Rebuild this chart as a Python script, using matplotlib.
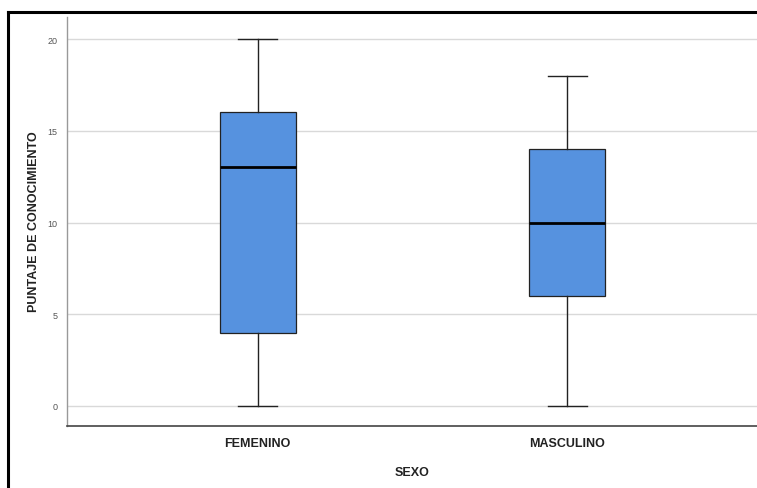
import matplotlib
matplotlib.use("Agg")
import matplotlib.pyplot as plt
from matplotlib.lines import Line2D

categories = ["FEMENINO", "MASCULINO"]
mins = [0, 0]
q1s = [4, 6]
medians = [13, 10]
q3s = [16, 14]
maxs = [20, 18]
yticks = [0, 5, 10, 15, 20]

plt.rcParams['font.family'] = ['Liberation Sans', 'DejaVu Sans']

W, H = 757, 489
fig = plt.figure(figsize=(W / 100, H / 100), dpi=100)
ax = fig.add_axes([67 / W, 1 - 427 / H, 1 - 67 / W, (427 - 18) / H])

stats = []
for c, lo, a, m, b, hi in zip(categories, mins, q1s, medians, q3s, maxs):
    stats.append(dict(label=c, whislo=lo, q1=a, med=m, q3=b, whishi=hi, fliers=[]))

ax.bxp(stats, positions=range(len(categories)), widths=0.245, patch_artist=True,
       showfliers=False,
       boxprops=dict(facecolor='#5692df', edgecolor='#222222', linewidth=0.9),
       medianprops=dict(color='black', linewidth=2),
       whiskerprops=dict(color='#222222', linewidth=1),
       capprops=dict(color='#222222', linewidth=1),
       capwidths=0.125, zorder=3)

ax.set_xlim(-0.616, 1.613)
ax.set_ylim(-1.09, 21.2)
ax.set_yticks(yticks)
ax.set_yticklabels([str(t) for t in yticks], fontsize=6.5, color='#555555')
ax.set_xticks(range(len(categories)))
ax.set_xticklabels(categories, fontsize=9, fontweight='bold', color='#222222')
ax.tick_params(axis='both', length=0)
ax.tick_params(axis='y', pad=7)
ax.tick_params(axis='x', pad=8)
ax.yaxis.grid(True, color='#d9d9d9', linewidth=1)
ax.set_axisbelow(True)
for s in ['top', 'right']:
    ax.spines[s].set_visible(False)
ax.spines['left'].set_color('#999999')
ax.spines['left'].set_linewidth(1)
ax.spines['bottom'].set_color('#444444')
ax.spines['bottom'].set_linewidth(1.2)

ax.set_ylabel("PUNTAJE DE CONOCIMIENTO", fontsize=9, fontweight='bold', color='#222222')
ax.yaxis.set_label_coords((40 - 67) / (W - 67), (427 - 222) / (427 - 18))
ax.set_xlabel("SEXO", fontsize=9, fontweight='bold', color='#222222', labelpad=12)

# figure frame (top and left edges)
fig.add_artist(Line2D([8 / W, 1], [1 - 13 / H, 1 - 13 / H], transform=fig.transFigure, color='black', linewidth=2.2))
fig.add_artist(Line2D([8 / W, 8 / W], [0, 1 - 13 / H], transform=fig.transFigure, color='black', linewidth=2.2))

fig.savefig("out.png", dpi=100, facecolor='white')
